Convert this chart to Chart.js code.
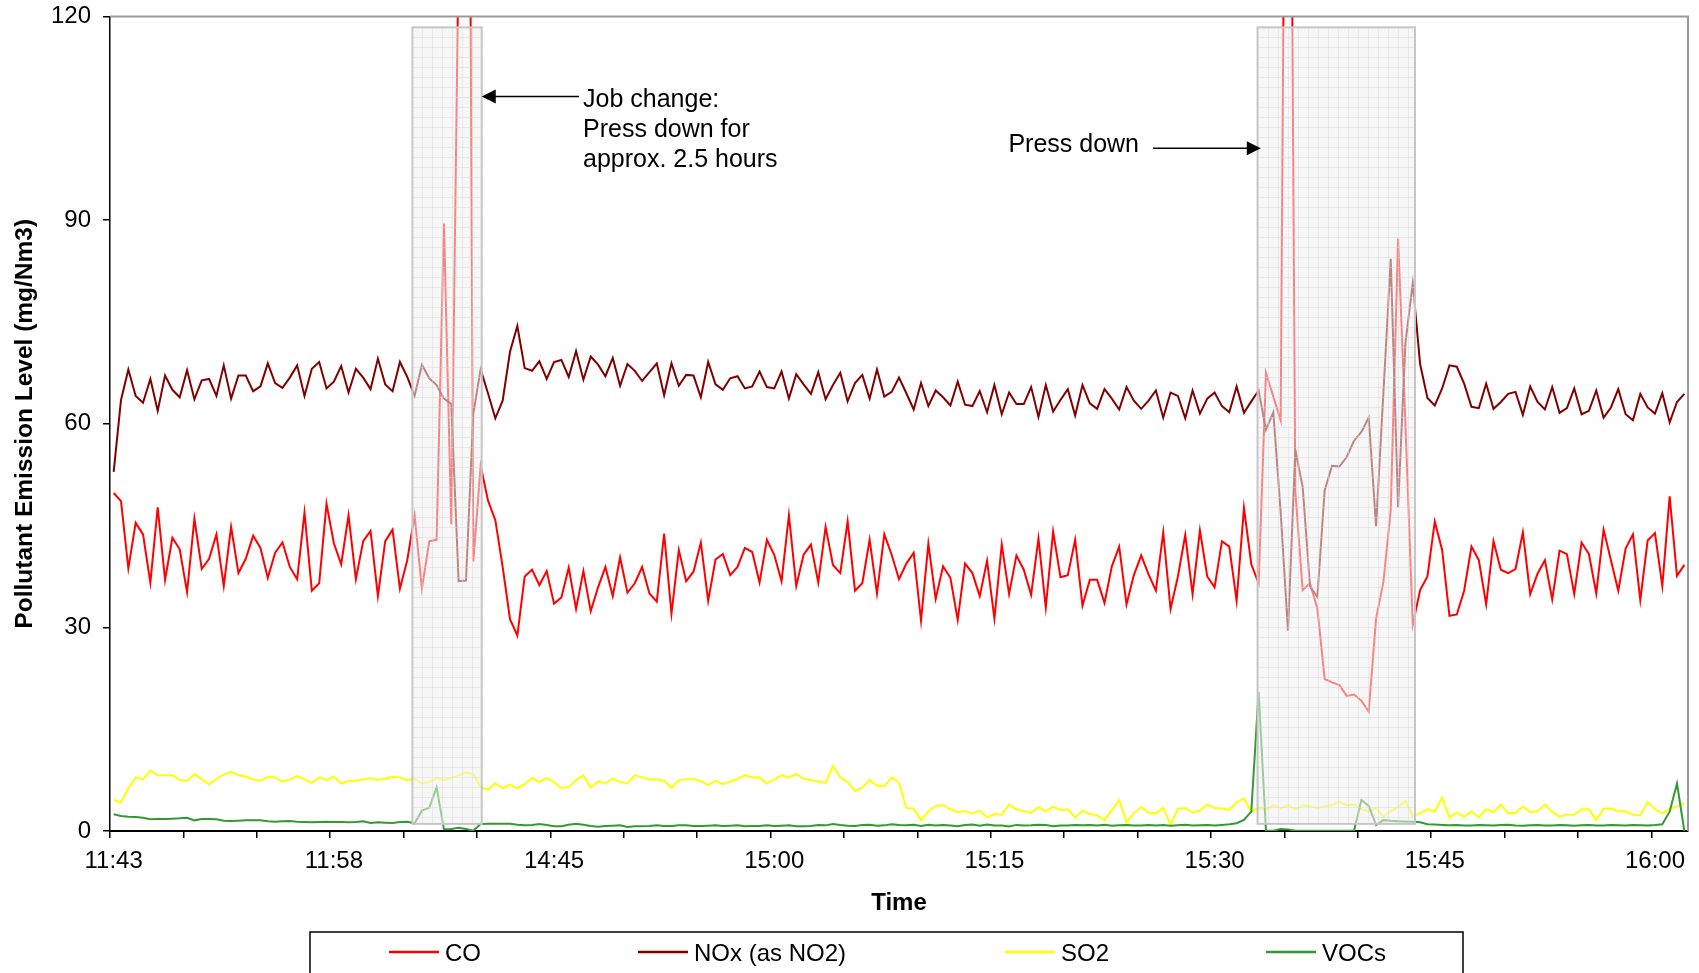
<!DOCTYPE html>
<html>
<head>
<meta charset="utf-8">
<script src="https://cdn.jsdelivr.net/npm/chart.js@4.4.1/dist/chart.umd.min.js"></script>
<style>
  html, body { margin: 0; padding: 0; background: #fff; }
  #chart { display: block; }
</style>
</head>
<body>
<canvas id="chart" width="1699" height="973"></canvas>
<script>
// readings every 30 s, one time label every 30 readings, a tick mark every 10
const TICK_LABELS = ["11:43", "11:58", "14:45", "15:00", "15:15", "15:30", "15:45", "16:00"];
const LABEL_EVERY = 30;
const TICK_EVERY = 10;

const CO = [
  49.8, 48.6, 38.7, 45.4, 43.7, 36.6, 47.7, 37.0, 43.2, 41.5,
  35.2, 46.0, 38.6, 40.1, 43.7, 36.1, 44.8, 38.0, 40.1, 43.5,
  41.7, 37.3, 41.0, 42.5, 38.9, 37.1, 46.9, 35.4, 36.5, 48.2,
  42.4, 39.3, 46.5, 37.1, 42.7, 44.2, 34.6, 42.7, 44.4, 35.7,
  39.9, 46.5, 35.7, 42.7, 42.9, 89.5, 45.2, 130, 260, 39.7,
  53.8, 48.7, 45.8, 38.9, 31.2, 28.8, 37.5, 38.5, 36.2, 38.3,
  33.5, 34.4, 38.8, 32.7, 38.3, 32.4, 35.9, 38.9, 34.6, 40.3,
  35.1, 36.5, 38.9, 35.0, 33.8, 43.8, 32.0, 41.4, 36.8, 38.2,
  42.5, 33.9, 40.0, 40.8, 37.7, 38.9, 41.7, 41.1, 36.6, 42.9,
  40.7, 36.8, 46.5, 36.1, 40.7, 42.2, 36.6, 44.8, 39.2, 38.0,
  45.6, 35.4, 36.5, 42.9, 35.0, 43.7, 40.7, 37.1, 39.4, 41.0,
  31.0, 42.3, 34.2, 39.0, 37.3, 31.1, 39.4, 38.0, 34.6, 39.8,
  31.3, 42.2, 34.9, 40.6, 38.5, 34.8, 43.1, 32.9, 44.1, 37.4,
  37.7, 42.9, 33.2, 37.0, 37.0, 33.6, 39.0, 41.9, 33.4, 37.7,
  40.6, 37.8, 35.4, 44.0, 32.7, 37.5, 43.6, 34.9, 44.3, 37.5,
  35.9, 42.7, 41.9, 33.9, 47.6, 39.3, 36.5, 67.5, 64.0, 60.5,
  220, 50.0, 35.5, 36.5, 32.8, 22.4, 21.9, 21.5, 19.9, 20.1,
  19.2, 17.6, 31.3, 36.7, 47.3, 87.3, 60.0, 30.4, 35.5, 37.5,
  45.6, 41.4, 31.7, 31.9, 35.4, 41.9, 39.9, 33.4, 42.7, 38.5,
  38.0, 38.6, 44.0, 34.9, 37.9, 39.9, 34.1, 41.3, 40.8, 34.9,
  42.5, 40.8, 35.0, 44.4, 39.9, 35.4, 41.6, 43.7, 34.0, 42.8,
  43.9, 36.1, 49.3, 37.6, 39.2
];

const NOX = [
  52.9, 63.5, 68.0, 64.1, 63.1, 66.6, 61.9, 67.1, 65.0, 63.9,
  67.9, 63.6, 66.4, 66.6, 64.1, 68.6, 63.7, 67.1, 67.1, 64.8,
  65.5, 68.9, 66.0, 65.3, 66.8, 68.6, 64.1, 68.1, 69.1, 65.2,
  66.2, 68.5, 64.6, 68.1, 66.8, 65.1, 69.6, 65.8, 64.8, 69.1,
  66.9, 64.1, 68.7, 66.7, 65.7, 63.7, 62.9, 36.8, 36.9, 61.5,
  68.0, 64.5, 60.8, 63.4, 70.6, 74.4, 68.2, 67.8, 69.2, 66.6,
  69.1, 69.4, 66.9, 70.7, 66.5, 69.9, 68.7, 67.0, 69.7, 65.6,
  68.8, 67.8, 66.3, 67.6, 68.9, 64.2, 68.9, 65.6, 67.2, 67.1,
  63.9, 69.1, 65.8, 65.0, 66.7, 67.0, 65.2, 65.5, 67.7, 65.4,
  65.2, 67.7, 63.7, 67.3, 65.8, 64.4, 67.6, 63.6, 65.7, 67.5,
  63.3, 66.0, 67.2, 63.7, 68.0, 64.0, 64.7, 66.8, 64.5, 62.1,
  66.0, 62.6, 64.9, 63.9, 62.7, 66.2, 62.8, 62.6, 64.8, 61.7,
  65.7, 61.4, 64.6, 62.9, 62.9, 65.4, 61.0, 65.7, 61.8, 63.5,
  65.1, 61.2, 65.7, 63.0, 62.2, 65.1, 63.7, 62.1, 65.4, 63.4,
  62.2, 63.4, 64.9, 60.9, 64.6, 64.1, 60.8, 64.9, 61.5, 63.7,
  64.6, 62.6, 61.7, 65.5, 61.6, 63.3, 64.9, 59.1, 61.7, 47.0,
  29.5, 56.1, 50.7, 36.0, 34.5, 50.2, 53.8, 53.7, 55.1, 57.5,
  58.8, 60.9, 44.9, 64.6, 84.3, 47.7, 71.9, 80.7, 68.8, 63.8,
  62.7, 65.2, 68.6, 68.4, 65.9, 62.5, 62.3, 65.9, 62.2, 63.2,
  64.4, 64.7, 61.3, 65.5, 63.2, 62.1, 65.4, 61.6, 62.3, 65.2,
  61.4, 61.9, 64.9, 60.9, 62.4, 65.1, 61.4, 60.5, 64.4, 62.4,
  61.5, 64.5, 60.2, 63.2, 64.4
];

const SO2 = [
  4.6, 4.2, 6.3, 7.9, 7.6, 8.9, 8.2, 8.2, 8.2, 7.5,
  7.4, 8.4, 7.6, 6.9, 7.7, 8.3, 8.7, 8.2, 8.0, 7.6,
  7.4, 8.0, 7.9, 7.3, 7.6, 8.1, 7.6, 7.1, 7.9, 7.5,
  8.0, 7.0, 7.4, 7.4, 7.6, 7.8, 7.5, 7.7, 8.0, 7.9,
  7.5, 7.7, 7.0, 7.2, 7.8, 7.5, 7.8, 8.2, 8.6, 8.4,
  6.4, 6.1, 7.0, 6.3, 6.8, 6.3, 6.9, 7.8, 7.2, 7.8,
  7.2, 6.3, 6.5, 7.5, 8.2, 6.4, 7.3, 7.0, 7.7, 7.2,
  7.0, 8.2, 7.9, 7.6, 7.6, 7.4, 6.4, 7.5, 7.6, 7.7,
  7.3, 6.8, 7.4, 6.9, 7.3, 7.7, 8.2, 7.9, 7.9, 7.0,
  7.6, 8.2, 7.9, 8.4, 7.7, 7.5, 7.3, 7.1, 9.6, 7.9,
  7.2, 5.9, 6.4, 7.5, 6.7, 6.6, 7.9, 7.1, 3.4, 3.3,
  1.6, 2.9, 3.7, 3.8, 3.2, 2.8, 2.9, 2.6, 3.0, 2.0,
  2.5, 2.4, 3.9, 3.2, 2.9, 2.7, 3.5, 2.9, 3.6, 3.1,
  3.2, 2.0, 3.0, 2.5, 2.3, 1.6, 3.1, 4.5, 1.3, 2.6,
  3.5, 2.7, 2.6, 3.4, 0.9, 3.3, 3.4, 2.7, 3.0, 3.9,
  3.4, 3.3, 3.1, 4.2, 4.8, 2.8, 3.4, 3.1, 3.8, 3.4,
  3.8, 3.2, 3.8, 3.7, 3.4, 3.7, 3.8, 4.3, 3.8, 3.9,
  3.2, 2.9, 3.4, 2.1, 2.9, 3.6, 4.4, 2.2, 2.6, 3.2,
  2.9, 4.9, 2.0, 2.7, 2.1, 2.9, 2.0, 3.2, 2.8, 3.9,
  2.6, 2.7, 3.6, 2.8, 2.9, 3.9, 2.8, 2.1, 2.4, 2.4,
  3.2, 3.2, 1.6, 3.3, 3.3, 2.9, 2.9, 2.4, 2.3, 4.3,
  3.2, 2.6, 3.3, 3.6, 4.1
];

const VOCS = [
  2.46, 2.21, 2.11, 2.06, 1.96, 1.72, 1.77, 1.77, 1.82, 1.87,
  1.96, 1.57, 1.77, 1.77, 1.72, 1.52, 1.47, 1.52, 1.57, 1.57,
  1.57, 1.42, 1.37, 1.42, 1.47, 1.37, 1.33, 1.28, 1.33, 1.37,
  1.33, 1.33, 1.28, 1.33, 1.42, 1.18, 1.28, 1.23, 1.18, 1.33,
  1.37, 1.13, 3.00, 3.44, 6.43, 0.25, 0.30, 0.49, 0.30, 0.05,
  1.03, 1.08, 1.08, 1.08, 1.08, 0.93, 0.83, 0.88, 1.03, 0.88,
  0.69, 0.69, 0.93, 1.08, 0.93, 0.74, 0.64, 0.74, 0.79, 0.83,
  0.59, 0.69, 0.69, 0.74, 0.83, 0.74, 0.74, 0.83, 0.83, 0.74,
  0.74, 0.79, 0.83, 0.74, 0.79, 0.83, 0.69, 0.74, 0.74, 0.83,
  0.74, 0.79, 0.83, 0.69, 0.69, 0.74, 0.88, 0.83, 1.03, 0.88,
  0.79, 0.74, 0.88, 0.93, 0.79, 0.83, 0.98, 0.88, 0.85, 0.92,
  0.75, 0.92, 0.80, 0.90, 0.80, 0.70, 0.88, 0.95, 0.78, 0.95,
  0.80, 0.82, 0.68, 0.90, 0.80, 0.84, 0.92, 0.88, 0.70, 0.80,
  0.80, 0.88, 0.85, 0.90, 0.80, 0.92, 0.78, 0.85, 0.90, 0.80,
  0.82, 0.88, 0.82, 0.90, 0.78, 0.85, 0.92, 0.80, 0.85, 0.88,
  0.82, 0.90, 1.00, 1.15, 1.62, 2.85, 20.5, 0.05, 0.05, 0.30,
  0.24, 0.05, 0.02, 0.02, 0.02, 0.02, 0.02, 0.02, 0.02, 0.05,
  4.56, 3.70, 0.90, 1.60, 1.50, 1.45, 1.40, 1.35, 1.30, 1.00,
  0.95, 0.90, 0.85, 0.88, 0.80, 0.82, 0.90, 0.85, 0.80, 0.88,
  0.92, 0.80, 0.78, 0.85, 0.90, 0.82, 0.80, 0.88, 0.85, 0.78,
  0.85, 0.90, 0.80, 0.82, 0.88, 0.85, 0.80, 0.90, 0.85, 0.82,
  0.88, 1.00, 2.85, 7.00, 0.00
];

const CATEGORIES = CO.map((_, i) => i);

// shaded press-down periods, in category index / mg/Nm3 units
const PRESS_DOWN = [
  { from: 40.7, to: 50.15, bottom: 1.05, top: 118.4 },
  { from: 155.85, to: 177.3, bottom: 1.05, top: 118.4 }
];

const ARROWS = [
  { from: [63.4, 108.2], to: [50.15, 108.2] },
  { from: [141.6, 100.6], to: [156.3, 100.6] }
];

const NOTES = [
  { lines: ["Job change:", "Press down for", "approx. 2.5 hours"], at: [63.95, 106.7], align: "left" },
  { lines: ["Press down"], at: [139.7, 100.0], align: "right" }
];

const FONT = "'Liberation Sans', Arial, sans-serif";

const overlayPlugin = {
  id: "overlay",
  beforeDraw(chart) {
    const { ctx, width, height } = chart;
    ctx.save();
    ctx.fillStyle = "#fff";
    ctx.fillRect(0, 0, width, height);
    ctx.restore();
  },
  afterDatasetsDraw(chart) {
    const { ctx, chartArea, scales: { x, y } } = chart;
    ctx.save();

    // grey frame on top and right of the plot
    ctx.strokeStyle = "#9a9a9a";
    ctx.lineWidth = 2;
    ctx.beginPath();
    ctx.moveTo(chartArea.left, chartArea.top);
    ctx.lineTo(chartArea.right, chartArea.top);
    ctx.lineTo(chartArea.right, chartArea.bottom);
    ctx.stroke();

    PRESS_DOWN.forEach((b) => {
      const x1 = x.getPixelForValue(b.from);
      const x2 = x.getPixelForValue(b.to);
      const y1 = y.getPixelForValue(b.top);
      const y2 = y.getPixelForValue(b.bottom);
      ctx.fillStyle = "rgba(241,241,241,0.55)";
      ctx.fillRect(x1, y1, x2 - x1, y2 - y1);
      ctx.strokeStyle = "rgba(215,215,215,0.45)";
      ctx.lineWidth = 1;
      ctx.beginPath();
      for (let gx = x1 + 10; gx < x2 - 2; gx += 10) {
        ctx.moveTo(Math.round(gx) + 0.5, y1);
        ctx.lineTo(Math.round(gx) + 0.5, y2);
      }
      for (let gy = y1 + 10; gy < y2 - 2; gy += 10) {
        ctx.moveTo(x1, Math.round(gy) + 0.5);
        ctx.lineTo(x2, Math.round(gy) + 0.5);
      }
      ctx.stroke();
      ctx.strokeStyle = "#c6c6c6";
      ctx.lineWidth = 2;
      ctx.strokeRect(x1, y1, x2 - x1, y2 - y1);
    });
    ctx.restore();
  },
  afterDraw(chart) {
    const { ctx, scales: { x, y } } = chart;
    ctx.save();

    // arrows
    ctx.strokeStyle = "#000";
    ctx.fillStyle = "#000";
    ctx.lineWidth = 1.5;
    ARROWS.forEach((a) => {
      const x0 = x.getPixelForValue(a.from[0]);
      const y0 = y.getPixelForValue(a.from[1]);
      const x1 = x.getPixelForValue(a.to[0]);
      const y1 = y.getPixelForValue(a.to[1]);
      const dir = Math.sign(x1 - x0);
      ctx.beginPath();
      ctx.moveTo(x0, y0);
      ctx.lineTo(x1 - dir * 10, y1);
      ctx.stroke();
      ctx.beginPath();
      ctx.moveTo(x1, y1);
      ctx.lineTo(x1 - dir * 14, y1 - 7);
      ctx.lineTo(x1 - dir * 14, y1 + 7);
      ctx.closePath();
      ctx.fill();
    });

    // notes
    ctx.font = "25px " + FONT;
    ctx.textBaseline = "alphabetic";
    NOTES.forEach((n) => {
      ctx.textAlign = n.align;
      const px = x.getPixelForValue(n.at[0]);
      const py = y.getPixelForValue(n.at[1]);
      n.lines.forEach((line, k) => ctx.fillText(line, px, py + k * 30));
    });

    // legend
    ctx.lineWidth = 1.5;
    ctx.strokeStyle = "#000";
    ctx.strokeRect(310, 932, 1153, 60);
    const itemX = [389, 638, 1005, 1266];
    ctx.font = "24px " + FONT;
    ctx.textAlign = "left";
    ctx.textBaseline = "middle";
    chart.data.datasets.forEach((ds, k) => {
      ctx.strokeStyle = ds.borderColor;
      ctx.lineWidth = 2.5;
      ctx.beginPath();
      ctx.moveTo(itemX[k], 952);
      ctx.lineTo(itemX[k] + 50, 952);
      ctx.stroke();
      ctx.fillStyle = "#000";
      ctx.fillText(ds.label, itemX[k] + 56, 954);
    });
    ctx.restore();
  }
};

const line = (label, data, color, order) => ({
  label, data, order,
  borderColor: color,
  backgroundColor: color,
  borderWidth: 2,
  pointRadius: 0,
  tension: 0,
  fill: false
});

new Chart(document.getElementById("chart"), {
  type: "line",
  data: {
    labels: CATEGORIES,
    datasets: [
      line("CO", CO, "#ff0000", 4),
      line("NOx (as NO2)", NOX, "#800000", 3),
      line("SO2", SO2, "#ffff00", 2),
      line("VOCs", VOCS, "#339933", 1)
    ]
  },
  options: {
    responsive: false,
    animation: false,
    devicePixelRatio: 1,
    layout: { padding: { left: 0, right: 11, top: 16.5, bottom: 0 } },
    plugins: { legend: { display: false }, tooltip: { enabled: false } },
    scales: {
      x: {
        type: "category",
        offset: true,
        grid: {
          offset: true,
          drawOnChartArea: false,
          drawTicks: true,
          tickLength: 7,
          lineWidth: 1.5,
          color: (c) => (c.index % TICK_EVERY === 0 ? "#000" : "rgba(0,0,0,0)")
        },
        border: { color: "#000", width: 2 },
        ticks: {
          autoSkip: false,
          maxRotation: 0,
          minRotation: 0,
          padding: 9,
          color: "#000",
          font: { family: FONT, size: 24 },
          callback: (value, index) => (index % LABEL_EVERY === 0 ? TICK_LABELS[index / LABEL_EVERY] : "")
        },
        title: {
          display: true,
          text: "Time",
          color: "#000",
          font: { family: FONT, size: 24, weight: "bold" },
          padding: { top: 0, bottom: 55 }
        },
        afterFit: (scale) => { scale.height = 142; }
      },
      y: {
        min: 0,
        max: 120,
        grid: { drawOnChartArea: false, tickLength: 7, lineWidth: 1.5, color: "#000" },
        border: { color: "#000", width: 1.5 },
        ticks: {
          stepSize: 30,
          padding: 12,
          color: "#000",
          font: { family: FONT, size: 24 }
        },
        title: {
          display: true,
          text: "Pollutant Emission Level (mg/Nm3)",
          color: "#000",
          font: { family: FONT, size: 24.5, weight: "bold" },
          padding: { top: 11, bottom: 0 }
        },
        afterFit: (scale) => {
          scale.width = 110;
          scale.paddingTop = 0;
          scale.paddingBottom = 0;
        }
      }
    }
  },
  plugins: [overlayPlugin]
});
</script>
</body>
</html>
